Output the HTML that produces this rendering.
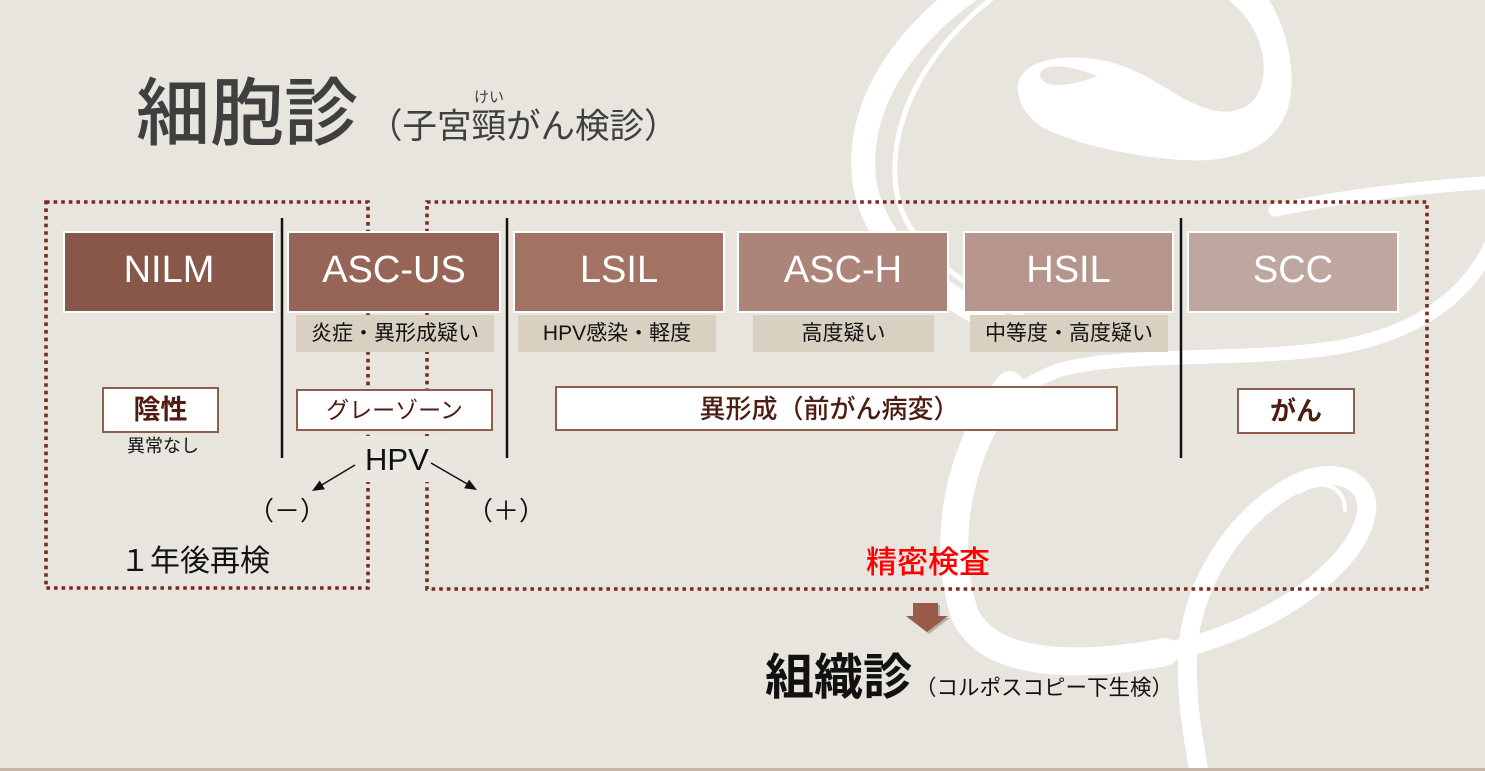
<!DOCTYPE html>
<html><head><meta charset="utf-8">
<style>
html,body{margin:0;padding:0;}
body{width:1485px;height:771px;position:relative;overflow:hidden;background:#e8e4de;font-family:"Liberation Sans","Noto Sans CJK JP",sans-serif;}
.a{position:absolute;}
.cell{position:absolute;top:231px;height:82px;border:2px solid #fff;box-sizing:border-box;color:#fff;font-size:38px;display:flex;align-items:center;justify-content:center;line-height:1;padding-bottom:5px;}
.sub{position:absolute;top:315px;height:37px;background:#d8d0c1;display:flex;align-items:center;justify-content:center;font-size:21px;color:#111;line-height:1;white-space:nowrap;}
.wb{position:absolute;background:#fff;border:2px solid #8e5d4d;box-sizing:border-box;display:flex;align-items:center;justify-content:center;color:#4e1c10;line-height:1;white-space:nowrap;}
.t{position:absolute;line-height:1;white-space:nowrap;}
</style></head><body>
<svg class="a" style="left:0;top:0" width="1485" height="771" viewBox="0 0 1485 771">
 <g fill="none" stroke="#fff" stroke-linecap="round">
  <path d="M985 -20 C905 30 850 110 866 190 C880 250 930 290 1010 330" stroke-width="24"/>
  <path d="M1010 -15 C930 40 884 120 897 195 C908 245 955 282 1030 320" stroke-width="5"/>
  <path d="M1275 210 C1340 197 1420 186 1500 182" stroke-width="13"/>
  <path d="M1500 222 C1480 285 1430 330 1340 347 C1250 362 1120 352 1060 370 C1000 390 968 440 955 500" stroke-width="14"/>
  <path d="M1010 385 C960 445 940 540 965 615 C990 668 1080 668 1165 652" stroke-width="28"/>
  <path d="M1165 652 C1265 632 1355 570 1366 515 C1373 480 1335 466 1300 482 C1240 510 1192 580 1188 650 C1185 705 1195 745 1202 790" stroke-width="19"/>
  <path d="M1345 510 C1345 485 1320 478 1300 492" stroke-width="4"/>
 </g>
 <path fill="#fff" d="M1018 92 C1014 62 1060 50 1110 62 C1150 72 1180 102 1212 110 C1248 118 1270 95 1262 52 C1256 25 1240 8 1222 -5 L1266 -5 C1286 25 1298 72 1288 108 C1274 150 1232 163 1180 160 C1120 155 1070 142 1042 127 C1027 117 1020 105 1018 92 Z"/>
 <path fill="#e8e4de" d="M1040 76 C1040 64 1062 62 1097 76 C1072 86 1044 90 1040 76 Z"/>

 <g fill="none" stroke="#7a2b22" stroke-width="3.6" stroke-dasharray="3.6 4">
  <rect x="46" y="202" width="322" height="386"/>
  <rect x="427" y="202" width="1000" height="387"/>
 </g>
 <g stroke="#111" stroke-width="2.5">
  <line x1="282" y1="218" x2="282" y2="458"/>
  <line x1="507" y1="218" x2="507" y2="458"/>
  <line x1="1181" y1="218" x2="1181" y2="458"/>
 </g>
 <rect x="347" y="436" width="100" height="46" fill="#eae7e1"/>
 <g stroke="#111" stroke-width="1.5">
  <line x1="355" y1="465" x2="320" y2="486"/>
  <line x1="431" y1="463" x2="469" y2="485"/>
 </g>
 <polygon points="312,491 324.9,489.3 319.7,480.5" fill="#111"/>
 <polygon points="477,490 464.1,488.2 469.1,479.6" fill="#111"/>
 <polygon points="915,605 940,605 940,618 950,618 929,634 908,618 915,618" fill="rgba(0,0,0,0.22)"/>
 <polygon points="913,603 938,603 938,616 948,616 927,632 906,616 913,616" fill="#9a5a48"/>
 <rect x="0" y="768" width="1485" height="3" fill="#c7b3a7"/>
</svg>

<div class="t" style="left:136px;top:77px;font-size:74px;color:#3f3f3f;font-weight:500;">細胞診</div>
<div class="t" style="left:368px;top:110px;font-size:34.5px;color:#3f3f3f;">（子宮頸がん検診）</div>
<div class="t" style="left:464px;top:90px;width:50px;text-align:center;font-size:15px;color:#3f3f3f;">けい</div>

<div class="cell" style="left:63px;width:212px;background:#87574a;">NILM</div>
<div class="cell" style="left:287px;width:214px;background:#976557;">ASC-US</div>
<div class="cell" style="left:513px;width:212px;background:#a27364;">LSIL</div>
<div class="cell" style="left:737px;width:212px;background:#ac8479;">ASC-H</div>
<div class="cell" style="left:963px;width:211px;background:#b5958c;">HSIL</div>
<div class="cell" style="left:1187px;width:212px;background:#bda79f;">SCC</div>

<div class="sub" style="left:296px;width:198px;">炎症・異形成疑い</div>
<div class="sub" style="left:518px;width:198px;">HPV感染・軽度</div>
<div class="sub" style="left:753px;width:181px;">高度疑い</div>
<div class="sub" style="left:970px;width:198px;">中等度・高度疑い</div>

<div class="wb" style="left:102px;top:387px;width:117px;height:46px;font-size:27px;font-weight:bold;">陰性</div>
<div class="wb" style="left:296px;top:389px;width:197px;height:42px;font-size:23px;">グレーゾーン</div>
<div class="wb" style="left:555px;top:386px;width:563px;height:45px;font-size:26px;font-weight:500;padding-right:14px;">異形成（前がん病変）</div>
<div class="wb" style="left:1237px;top:388px;width:118px;height:46px;font-size:26px;font-weight:bold;">がん</div>

<div class="t" style="left:127px;top:437px;font-size:18px;color:#111;">異常なし</div>
<div class="t" style="left:365px;top:444px;font-size:31px;color:#111;">HPV</div>
<div class="t" style="left:237px;top:498px;width:100px;text-align:center;font-size:26px;color:#111;">（－）</div>
<div class="t" style="left:456px;top:498px;width:100px;text-align:center;font-size:26px;color:#111;">（＋）</div>
<div class="t" style="left:120px;top:547px;font-size:30px;color:#111;">１年後再検</div>
<div class="t" style="left:866px;top:547px;font-size:31px;color:#ff0000;font-weight:500;">精密検査</div>
<div class="t" style="left:765px;top:654px;font-size:49px;color:#111;font-weight:bold;">組織診</div>
<div class="t" style="left:915px;top:678px;font-size:21.5px;color:#111;">（コルポスコピー下生検）</div>
</body></html>
